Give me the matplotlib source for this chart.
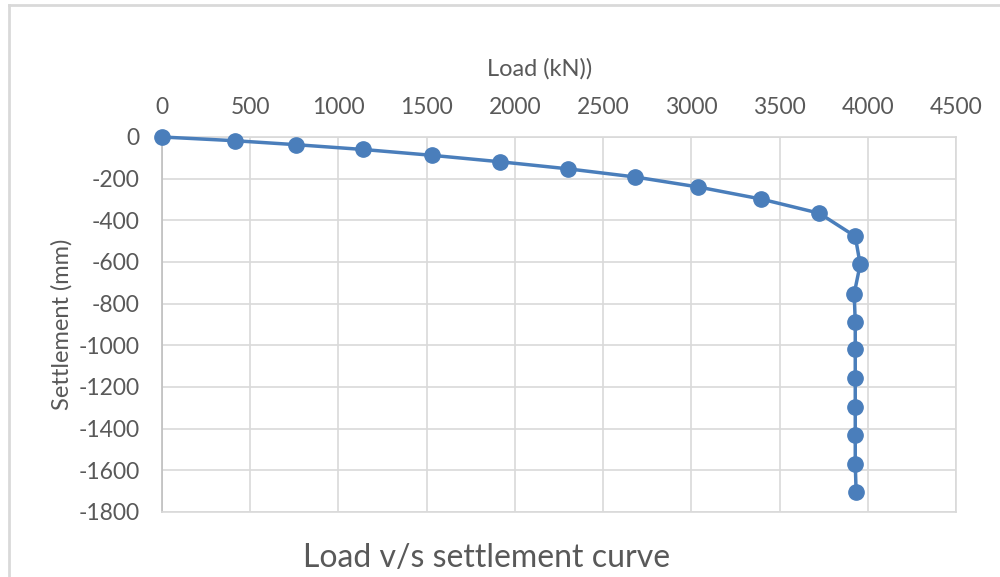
import matplotlib
matplotlib.use("Agg")
import matplotlib.pyplot as plt
from matplotlib.lines import Line2D

# load (kN) vs settlement (mm)
load = [0, 414, 760, 1140, 1530, 1916, 2302, 2681, 3039, 3396, 3725,
        3929, 3957, 3923, 3929, 3929, 3929, 3929, 3929, 3929, 3934]
settlement = [0, -18, -37, -60, -88, -119, -153, -192, -240, -298, -366,
              -477, -612, -752, -889, -1019, -1159, -1294, -1429, -1569, -1704]

x_ticks = list(range(0, 4501, 500))
y_ticks = list(range(0, -1801, -200))

TEXT = "#595959"
GRID = "#d9d9d9"
BLUE = "#4a7ebb"

plt.rcParams["font.family"] = ["Lato", "DejaVu Sans"]
plt.rcParams["axes.unicode_minus"] = False

fig = plt.figure(figsize=(10, 5.77), dpi=100)
fig.patch.set_facecolor("white")
ax = fig.add_axes([0.162, 0.1127, 0.794, 0.6499])

ax.plot(load, settlement, color=BLUE, lw=2.5, marker="o", ms=11,
        mfc=BLUE, mec=BLUE, zorder=3, clip_on=False)

ax.set_xlim(0, 4500)
ax.set_ylim(-1800, 0)
ax.set_xticks(x_ticks)
ax.set_yticks(y_ticks)
ax.xaxis.tick_top()
ax.xaxis.set_label_position("top")
ax.tick_params(length=0, labelsize=16.5, labelcolor=TEXT)
ax.tick_params(axis="x", pad=14)
ax.tick_params(axis="y", pad=16)
ax.grid(True, color=GRID, lw=1.2)
ax.set_axisbelow(True)
for s in ax.spines.values():
    s.set_color(GRID)
    s.set_linewidth(1.2)
ax.spines["left"].set_color("#bfbfbf")

ax.set_xlabel("Load (kN))", fontsize=17, color=TEXT)
ax.xaxis.set_label_coords(0.476, 1.165)
ax.set_ylabel("Settlement (mm)", fontsize=17, color=TEXT)
ax.yaxis.set_label_coords(-0.113, 0.5)

fig.text(0.487, 0.033, "Load v/s settlement curve", fontsize=23,
         color=TEXT, ha="center", va="center")

# chart area frame
fig.add_artist(Line2D([0.009, 0.009], [0, 0.992], transform=fig.transFigure,
                      color=GRID, lw=2))
fig.add_artist(Line2D([0.009, 1], [0.992, 0.992], transform=fig.transFigure,
                      color=GRID, lw=2))

fig.savefig("out.png", dpi=100, facecolor="white")
